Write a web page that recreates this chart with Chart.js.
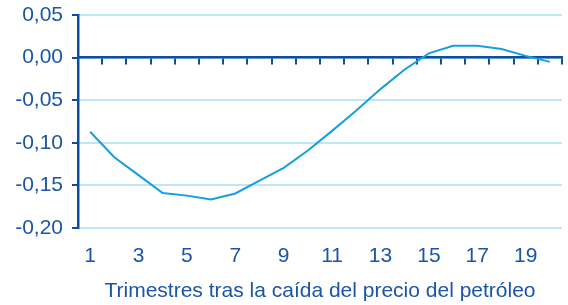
<!DOCTYPE html>
<html>
<head>
<meta charset="utf-8">
<script src="https://cdn.jsdelivr.net/npm/chart.js@4.4.1/dist/chart.umd.min.js"></script>
<style>
html,body{margin:0;padding:0;background:#fff;}
#wrap{width:568px;height:305px;}
</style>
</head>
<body>
<div id="wrap"><canvas id="c" width="568" height="305"></canvas></div>
<script>
const categories = ['1','2','3','4','5','6','7','8','9','10','11','12','13','14','15','16','17','18','19','20'];
const values = [-0.087,-0.117,-0.138,-0.159,-0.162,-0.1665,-0.1595,-0.1445,-0.1295,-0.109,-0.086,-0.062,-0.037,-0.014,0.005,0.014,0.014,0.010,0.002,-0.005];
const yMin = -0.20, yMax = 0.05, yStep = 0.05;
const xTitle = 'Trimestres tras la caída del precio del petróleo';

const DARK = '#0b4ea2';
const TEXT = '#1b55a6';
const GRID = '#bfe6f6';
const LINE = '#14a0dd';
const FONT = 'Liberation Sans, Arial, sans-serif';

new Chart(document.getElementById('c'), {
  type: 'line',
  data: {
    labels: categories,
    datasets: [{
      data: values,
      borderColor: LINE,
      borderWidth: 2,
      pointRadius: 0,
      tension: 0,
      fill: false,
      xAxisID: 'x',
      yAxisID: 'y'
    }]
  },
  options: {
    responsive: false,
    animation: false,
    layout: { padding: { top: 15, right: 6, left: 0, bottom: 0 } },
    plugins: { legend: { display: false }, tooltip: { enabled: false } },
    scales: {
      y: {
        min: yMin, max: yMax,
        afterFit: s => { s.width = 78; s.paddingTop = 0; s.paddingBottom = 0; },
        ticks: {
          stepSize: yStep,
          color: TEXT,
          font: { family: FONT, size: 21 },
          padding: 9,
          callback: v => { const n = Math.abs(v) < 1e-9 ? 0 : v; return n.toFixed(2).replace('.', ','); }
        },
        grid: { color: GRID, lineWidth: 2, tickColor: DARK, tickLength: 6, drawTicks: true },
        border: { display: true, color: DARK, width: 2.5 }
      },
      x0: {
        type: 'category',
        position: { y: 0 },
        offset: true,
        afterFit: s => { s.height = 0; },
        ticks: { display: false },
        grid: { offset: true, drawOnChartArea: false, drawTicks: true, tickLength: 6, tickColor: DARK, color: DARK, lineWidth: 2 },
        border: { display: true, color: DARK, width: 2.5 }
      },
      x: {
        type: 'category',
        position: 'bottom',
        offset: true,
        afterFit: s => { s.height = 77; },
        grid: { display: false, drawTicks: false },
        border: { display: false },
        ticks: {
          autoSkip: false,
          maxRotation: 0,
          color: TEXT,
          font: { family: FONT, size: 21 },
          padding: 16,
          callback: function(v, i) { return i % 2 === 0 ? categories[i] : ''; }
        },
        title: {
          display: true,
          text: xTitle,
          color: TEXT,
          font: { family: FONT, size: 21 },
          padding: { top: 0, bottom: 1 }
        }
      }
    }
  }
});
</script>
</body>
</html>
